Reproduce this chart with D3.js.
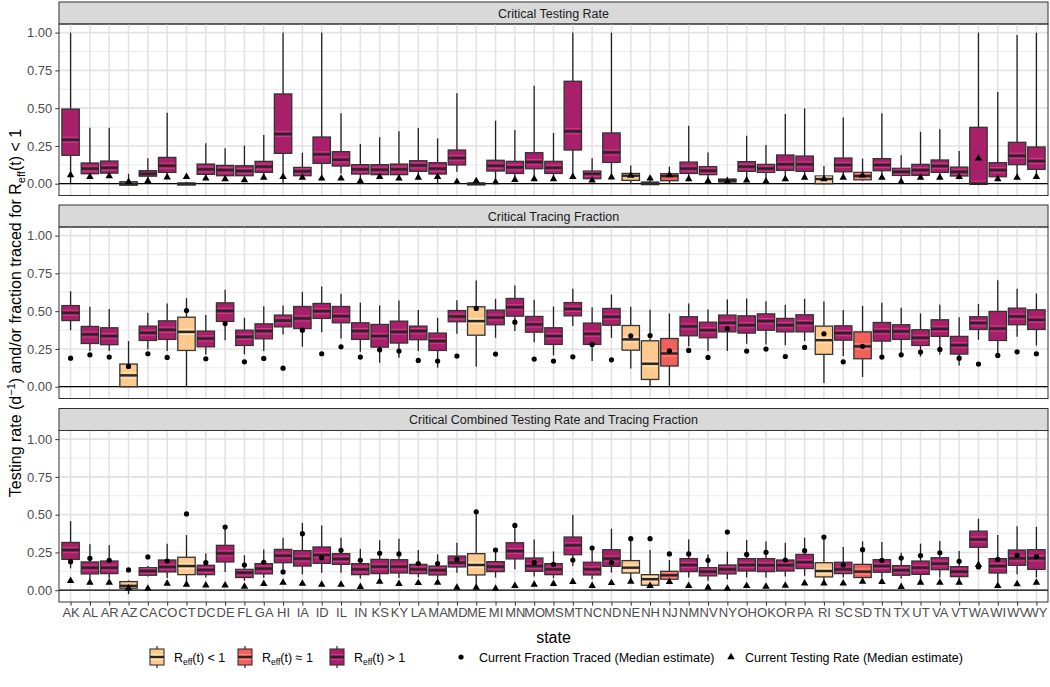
<!DOCTYPE html>
<html><head><meta charset="utf-8">
<script src="https://cdn.jsdelivr.net/npm/d3@7"></script>
<style>body{margin:0;background:#fff}svg{display:block;font-family:"Liberation Sans",Arial,sans-serif}</style>
</head><body><svg id="c" width="1050" height="687"></svg>
<script>
const states=["AK","AL","AR","AZ","CA","CO","CT","DC","DE","FL","GA","HI","IA","ID","IL","IN","KS","KY","LA","MA","MD","ME","MI","MN","MO","MS","MT","NC","ND","NE","NH","NJ","NM","NV","NY","OH","OK","OR","PA","RI","SC","SD","TN","TX","UT","VA","VT","WA","WI","WV","WY"];
const ltStates=["AZ","CT","ME","NE","NH","RI"];
const eqStates=["NJ","SD"];
const panelTitles=["Critical Testing Rate","Critical Tracing Fraction","Critical Combined Testing Rate and Tracing Fraction"];
const yTicks=[0,0.25,0.5,0.75,1];
const yMinor=[0.125,0.375,0.625,0.875];

// Panel 1: Critical Testing Rate
const p1Low=[0,0.045,0.05,-0.01,0.02,0.04,-0.01,0.035,0.03,0.025,0.04,0,0.04,0.03,0.068,0.018,0.04,0.035,0.04,0,0.08,-0.005,0.01,0.025,0.03,0.03,0.05,0.02,0.04,0,-0.005,0,0.03,0.02,0.005,0.02,0.015,0.03,0.04,-0.005,0.04,0.02,0.04,0.015,0.035,0.04,0.03,-0.01,0.03,0.04,0.04];
const p1Q1=[0.188,0.066,0.07,-0.01,0.05,0.075,-0.009,0.062,0.053,0.053,0.075,0.201,0.053,0.135,0.117,0.064,0.06,0.06,0.082,0.064,0.124,-0.008,0.084,0.068,0.099,0.068,0.223,0.033,0.141,0.022,-0.006,0.02,0.068,0.06,0.011,0.082,0.075,0.088,0.082,0,0.079,0.026,0.086,0.055,0.055,0.075,0.051,-0.004,0.046,0.126,0.095];
const p1Med=[0.291,0.10,0.106,0,0.066,0.119,0,0.095,0.09,0.084,0.113,0.329,0.082,0.194,0.159,0.095,0.093,0.095,0.121,0.10,0.17,0,0.119,0.108,0.143,0.106,0.347,0.066,0.207,0.053,0.002,0.051,0.10,0.086,0.022,0.113,0.10,0.128,0.128,0.031,0.124,0.051,0.124,0.079,0.09,0.117,0.079,0,0.09,0.185,0.15];
const p1Q3=[0.494,0.137,0.15,0.013,0.086,0.174,0.004,0.13,0.121,0.119,0.148,0.594,0.108,0.309,0.212,0.126,0.126,0.13,0.152,0.139,0.223,0.004,0.155,0.148,0.205,0.148,0.678,0.084,0.336,0.068,0.011,0.066,0.143,0.113,0.031,0.146,0.128,0.19,0.183,0.051,0.17,0.075,0.166,0.102,0.128,0.157,0.11,0.373,0.139,0.274,0.243];
const p1High=[1,0.371,0.371,0.066,0.168,0.47,0.01,0.267,0.234,0.252,0.322,1,0.205,1,0.466,0.263,0.307,0.347,0.369,0.3,0.598,0.018,0.417,0.355,0.649,0.336,1,0.168,1,0.121,0.046,0.113,0.384,0.207,0.046,0.318,0.256,0.461,0.499,0.117,0.439,0.166,0.466,0.188,0.344,0.36,0.216,1,0.607,0.985,1];
const p1Tri=[0.057,0.046,0.05,0.013,0.018,0.042,0.046,0.035,0.031,0.024,0.04,0.046,0.04,0.035,0.035,0.018,0.046,0.035,0.04,0.046,0.013,0.018,0.011,0.026,0.031,0.031,0.046,0.022,0.042,0.053,0.035,0.057,0.031,0.018,0.013,0.022,0.015,0.031,0.04,0.031,0.04,0.055,0.04,0.013,0.04,0.04,0.046,0.168,0.031,0.04,0.046];

// Panel 2: Critical Tracing Fraction
const p2Low=[0.374,0.236,0.236,0,0.247,0.236,0,0.214,0.308,0.214,0.236,0.346,0.264,0.361,0.319,0.231,0.159,0.192,0.236,0.126,0.35,0.132,0.324,0.368,0.295,0.207,0.401,0.17,0.324,0.121,0,0,0.267,0.236,0.236,0.284,0.28,0.275,0.302,0.024,0.203,0.064,0.209,0.22,0.2,0.214,0.141,0.311,0.192,0.33,0.273];
const p2Q1=[0.438,0.286,0.278,0,0.306,0.313,0.24,0.264,0.432,0.273,0.317,0.396,0.385,0.452,0.423,0.313,0.262,0.289,0.311,0.24,0.43,0.341,0.41,0.467,0.361,0.28,0.469,0.28,0.407,0.242,0.048,0.137,0.337,0.324,0.363,0.355,0.374,0.363,0.363,0.214,0.308,0.185,0.302,0.313,0.273,0.333,0.216,0.379,0.306,0.41,0.379];
const p2Med=[0.489,0.346,0.335,0.075,0.357,0.377,0.363,0.319,0.502,0.33,0.368,0.438,0.452,0.5,0.467,0.368,0.335,0.363,0.368,0.302,0.465,0.434,0.458,0.526,0.412,0.335,0.515,0.35,0.463,0.313,0.152,0.22,0.399,0.374,0.423,0.407,0.434,0.407,0.421,0.308,0.355,0.267,0.366,0.366,0.324,0.383,0.275,0.421,0.385,0.465,0.443];
const p2Q3=[0.537,0.399,0.39,0.15,0.401,0.436,0.46,0.368,0.555,0.374,0.416,0.474,0.531,0.551,0.531,0.423,0.412,0.434,0.401,0.355,0.504,0.529,0.507,0.584,0.465,0.39,0.557,0.421,0.518,0.405,0.304,0.319,0.463,0.427,0.474,0.469,0.482,0.452,0.476,0.401,0.403,0.363,0.425,0.41,0.377,0.443,0.333,0.463,0.498,0.52,0.509];
const p2High=[0.632,0.529,0.515,0.302,0.489,0.551,0.586,0.474,0.641,0.456,0.533,0.537,0.628,0.663,0.615,0.555,0.537,0.57,0.507,0.456,0.573,0.703,0.581,0.67,0.575,0.531,0.648,0.526,0.61,0.529,0.509,0.485,0.551,0.511,0.577,0.584,0.566,0.542,0.581,0.564,0.507,0.535,0.555,0.522,0.485,0.542,0.46,0.548,0.705,0.648,0.617];
const p2Dot=[0.189,0.211,0.196,0.134,0.218,0.194,0.504,0.185,0.418,0.165,0.187,0.123,0.374,0.218,0.264,0.196,0.244,0.236,0.174,0.17,0.203,0.518,0.216,0.427,0.183,0.17,0.198,0.28,0.178,0.337,0.339,0.238,0.24,0.194,0.385,0.236,0.249,0.2,0.26,0.35,0.165,0.267,0.196,0.211,0.229,0.247,0.189,0.15,0.207,0.231,0.218];

// Panel 3: Critical Combined Testing Rate and Tracing Fraction
const p3Low=[0.145,0.073,0.077,-0.026,0.09,0.081,0.046,0.084,0.121,0.062,0.081,0.138,0.105,0.116,0.116,0.077,0.081,0.081,0.084,0.077,0.116,0.018,0.084,0.138,0.09,0.079,0.16,0.073,0.116,0.073,0.018,0.057,0.084,0.062,0.073,0.084,0.084,0.09,0.095,0.051,0.084,0.062,0.084,0.077,0.062,0.084,0.062,0.154,0.051,0.105,0.084];
const p3Q1=[0.204,0.108,0.11,0.013,0.099,0.121,0.103,0.103,0.187,0.084,0.108,0.182,0.16,0.178,0.171,0.103,0.11,0.114,0.11,0.101,0.154,0.101,0.123,0.207,0.125,0.103,0.235,0.101,0.158,0.114,0.033,0.073,0.123,0.095,0.108,0.127,0.123,0.127,0.143,0.088,0.11,0.084,0.119,0.099,0.105,0.136,0.09,0.284,0.114,0.165,0.138];
const p3Med=[0.266,0.149,0.149,0.029,0.127,0.154,0.16,0.134,0.244,0.116,0.143,0.229,0.209,0.233,0.207,0.138,0.156,0.156,0.138,0.132,0.182,0.167,0.156,0.259,0.16,0.138,0.297,0.138,0.209,0.149,0.073,0.099,0.167,0.123,0.138,0.167,0.165,0.165,0.185,0.127,0.138,0.123,0.16,0.132,0.149,0.176,0.123,0.336,0.16,0.211,0.211];
const p3Q3=[0.316,0.187,0.193,0.057,0.149,0.2,0.218,0.165,0.297,0.138,0.176,0.27,0.262,0.286,0.242,0.176,0.204,0.202,0.171,0.16,0.226,0.242,0.189,0.314,0.213,0.176,0.352,0.185,0.268,0.196,0.103,0.125,0.209,0.149,0.167,0.209,0.209,0.2,0.237,0.182,0.185,0.171,0.202,0.163,0.193,0.215,0.156,0.391,0.209,0.266,0.268];
const p3High=[0.457,0.305,0.297,0.065,0.16,0.308,0.365,0.244,0.429,0.231,0.27,0.347,0.446,0.429,0.347,0.275,0.33,0.341,0.266,0.237,0.314,0.519,0.27,0.429,0.336,0.257,0.499,0.279,0.407,0.341,0.266,0.2,0.336,0.237,0.255,0.332,0.323,0.314,0.347,0.352,0.286,0.323,0.319,0.248,0.308,0.325,0.259,0.473,0.365,0.424,0.42];
const p3Dot=[0.189,0.211,0.198,0.134,0.22,0.193,0.505,0.182,0.418,0.167,0.185,0.121,0.374,0.215,0.264,0.198,0.244,0.24,0.176,0.176,0.204,0.519,0.266,0.429,0.182,0.171,0.2,0.279,0.182,0.341,0.341,0.24,0.24,0.198,0.385,0.237,0.251,0.2,0.262,0.352,0.167,0.268,0.198,0.213,0.229,0.248,0.191,0.154,0.204,0.231,0.222];
const p3Tri=[0.062,0.051,0.051,0.013,0.011,0.044,0.037,0.033,0.033,0.024,0.042,0.051,0.044,0.037,0.037,0.022,0.057,0.042,0.048,0.051,0.018,0.018,0.011,0.029,0.037,0.042,0.055,0.029,0.048,0.057,0.029,0.055,0.029,0.018,0.011,0.029,0.024,0.031,0.046,0.046,0.046,0.057,0.055,0.022,0.051,0.051,0.051,0.168,0.029,0.04,0.051];

const panels=[
 {low:p1Low,q1:p1Q1,med:p1Med,q3:p1Q3,high:p1High,dot:null,tri:p1Tri},
 {low:p2Low,q1:p2Q1,med:p2Med,q3:p2Q3,high:p2High,dot:p2Dot,tri:null},
 {low:p3Low,q1:p3Q1,med:p3Med,q3:p3Q3,high:p3High,dot:p3Dot,tri:p3Tri}
];
const catColor={lt:"#FEC98D",eq:"#F1605D",gt:"#A8206A"};
const catHi={lt:"#FFE6C4",eq:"#FF8C82",gt:"#D5388A"};
const cat=s=>ltStates.includes(s)?"lt":eqStates.includes(s)?"eq":"gt";

const svg=d3.select("#c");
const L=59,R=1048;
const stripTops=[2,205,408.5],stripH=22,plotH=171.5;
const x=d3.scalePoint().domain(states).range([L,R]).padding(0.6);
const bw=x.step()*0.9;
const dark="#333333";

panels.forEach((p,k)=>{
  const top=stripTops[k]+stripH, bot=top+plotH;
  const y=d3.scaleLinear().domain([-0.078,1.057]).range([bot,top]);
  const g=svg.append("g");
  g.append("rect").attr("x",L).attr("y",stripTops[k]).attr("width",R-L).attr("height",stripH)
    .attr("fill","#D9D9D9").attr("stroke",dark).attr("stroke-width",1);
  g.append("text").attr("x",(L+R)/2).attr("y",stripTops[k]+stripH/2+4.5).attr("text-anchor","middle")
    .attr("font-size",12.5).attr("fill","#1A1A1A").text(panelTitles[k]);
  g.selectAll(".mn").data(yMinor).join("line").attr("x1",L).attr("x2",R)
    .attr("y1",d=>y(d)).attr("y2",d=>y(d)).attr("stroke","#EBEBEB").attr("stroke-width",1);
  g.selectAll(".mj").data(yTicks).join("line").attr("x1",L).attr("x2",R)
    .attr("y1",d=>y(d)).attr("y2",d=>y(d)).attr("stroke","#E3E3E3").attr("stroke-width",1.6);
  g.selectAll(".vx").data(states).join("line").attr("x1",d=>x(d)).attr("x2",d=>x(d))
    .attr("y1",top).attr("y2",bot).attr("stroke","#E3E3E3").attr("stroke-width",1.6);
  g.append("line").attr("x1",L).attr("x2",R).attr("y1",y(0)).attr("y2",y(0)).attr("stroke","#000").attr("stroke-width",1.2);
  const data=states.map((s,i)=>({s,low:p.low[i],q1:p.q1[i],med:p.med[i],q3:p.q3[i],high:p.high[i],c:cat(s)}));
  const bx=g.selectAll(".bx").data(data).join("g");
  bx.append("line").attr("x1",d=>x(d.s)).attr("x2",d=>x(d.s)).attr("y1",d=>y(d.high)).attr("y2",d=>y(d.q3))
    .attr("stroke","#222").attr("stroke-width",1.3);
  bx.append("line").attr("x1",d=>x(d.s)).attr("x2",d=>x(d.s)).attr("y1",d=>y(d.q1)).attr("y2",d=>y(d.low))
    .attr("stroke","#222").attr("stroke-width",1.3);
  bx.append("rect").attr("x",d=>x(d.s)-bw/2).attr("width",bw)
    .attr("y",d=>y(d.q3)).attr("height",d=>Math.max(0.5,y(d.q1)-y(d.q3)))
    .attr("fill",d=>catColor[d.c]).attr("stroke",dark).attr("stroke-width",1.3);
  bx.filter(d=>y(d.q1)-y(d.q3)>7).each(function(d){
    const gg=d3.select(this);
    [-2.6,2.6].forEach(o=>{
      const yy=Math.min(Math.max(y(d.med)+o,y(d.q3)+1),y(d.q1)-1);
      gg.append("line").attr("x1",x(d.s)-bw/2+0.8).attr("x2",x(d.s)+bw/2-0.8).attr("y1",yy).attr("y2",yy)
        .attr("stroke",catHi[d.c]).attr("stroke-width",1);
    });
  });
  bx.append("line").attr("x1",d=>x(d.s)-bw/2).attr("x2",d=>x(d.s)+bw/2).attr("y1",d=>y(d.med)).attr("y2",d=>y(d.med))
    .attr("stroke","#262626").attr("stroke-width",2.4);
  if(p.dot){
    g.selectAll(".dt").data(states).join("circle").attr("cx",d=>x(d)).attr("cy",(d,i)=>y(p.dot[i]))
      .attr("r",2.6).attr("fill","#000");
  }
  if(p.tri){
    const sym=d3.symbol().type(d3.symbolTriangle).size(24);
    g.selectAll(".tr").data(states).join("path").attr("d",sym)
      .attr("transform",(d,i)=>`translate(${x(d)},${y(p.tri[i])})`).attr("fill","#000");
  }
  g.append("rect").attr("x",L).attr("y",top).attr("width",R-L).attr("height",plotH)
    .attr("fill","none").attr("stroke",dark).attr("stroke-width",1);
  const ya=g.append("g").attr("transform",`translate(${L},0)`)
    .call(d3.axisLeft(y).tickValues(yTicks).tickFormat(d3.format(".2f")).tickSize(3.7).tickPadding(3));
  ya.select(".domain").remove();
  ya.selectAll("line").attr("stroke",dark);
  ya.selectAll("text").attr("font-size",13).attr("fill","#4D4D4D").attr("font-family","Liberation Sans, Arial, sans-serif");
  if(k===2){
    const xa=g.append("g").attr("transform",`translate(0,${bot})`)
      .call(d3.axisBottom(x).tickSize(3.7).tickPadding(2));
    xa.select(".domain").remove();
    xa.selectAll("line").attr("stroke",dark);
    xa.selectAll("text").attr("font-size",13).attr("fill","#4D4D4D").attr("font-family","Liberation Sans, Arial, sans-serif");
  }
});

svg.append("text").attr("x",(L+R)/2).attr("y",643).attr("text-anchor","middle").attr("font-size",16).attr("fill","#000").text("state");
const yt=svg.append("text").attr("transform","translate(21,313) rotate(-90)").attr("text-anchor","middle").attr("font-size",16).attr("fill","#000");
yt.append("tspan").text("Testing rate (d");
yt.append("tspan").attr("dy",-6).attr("font-size",11).text("\u22121");
yt.append("tspan").attr("dy",6).text(") and/or fraction traced for R");
yt.append("tspan").attr("dy",4).attr("font-size",11).text("eff");
yt.append("tspan").attr("dy",-4).text("(t) < 1");

const lgY=657;
const legendCats=[{c:"lt",x:150,t:"(t) < 1"},{c:"eq",x:238,t:"(t) \u2248 1"},{c:"gt",x:330,t:"(t) > 1"}];
const lg=svg.append("g");
legendCats.forEach(l=>{
  const kw=14,kh=16;
  lg.append("line").attr("x1",l.x+kw/2).attr("x2",l.x+kw/2).attr("y1",lgY-11).attr("y2",lgY+11).attr("stroke","#222").attr("stroke-width",1.2);
  lg.append("rect").attr("x",l.x).attr("y",lgY-kh/2).attr("width",kw).attr("height",kh).attr("fill",catColor[l.c]).attr("stroke",dark).attr("stroke-width",1.1);
  [-2.6,2.6].forEach(o=>lg.append("line").attr("x1",l.x+0.8).attr("x2",l.x+kw-0.8).attr("y1",lgY+o).attr("y2",lgY+o).attr("stroke",catHi[l.c]).attr("stroke-width",1));
  lg.append("line").attr("x1",l.x).attr("x2",l.x+kw).attr("y1",lgY).attr("y2",lgY).attr("stroke","#262626").attr("stroke-width",2.2);
  const t=lg.append("text").attr("x",l.x+24).attr("y",lgY+4.5).attr("font-size",12.5).attr("fill","#000");
  t.append("tspan").text("R");
  t.append("tspan").attr("dy",3).attr("font-size",8.5).text("eff");
  t.append("tspan").attr("dy",-3).text(l.t);
});
lg.append("circle").attr("cx",461).attr("cy",lgY).attr("r",2.6).attr("fill","#000");
lg.append("text").attr("x",479).attr("y",lgY+4.5).attr("font-size",12.5).text("Current Fraction Traced (Median estimate)");
lg.append("path").attr("d",d3.symbol().type(d3.symbolTriangle).size(24)).attr("transform",`translate(731,${lgY})`).attr("fill","#000");
lg.append("text").attr("x",745).attr("y",lgY+4.5).attr("font-size",12.5).text("Current Testing Rate (Median estimate)");
</script></body></html>
